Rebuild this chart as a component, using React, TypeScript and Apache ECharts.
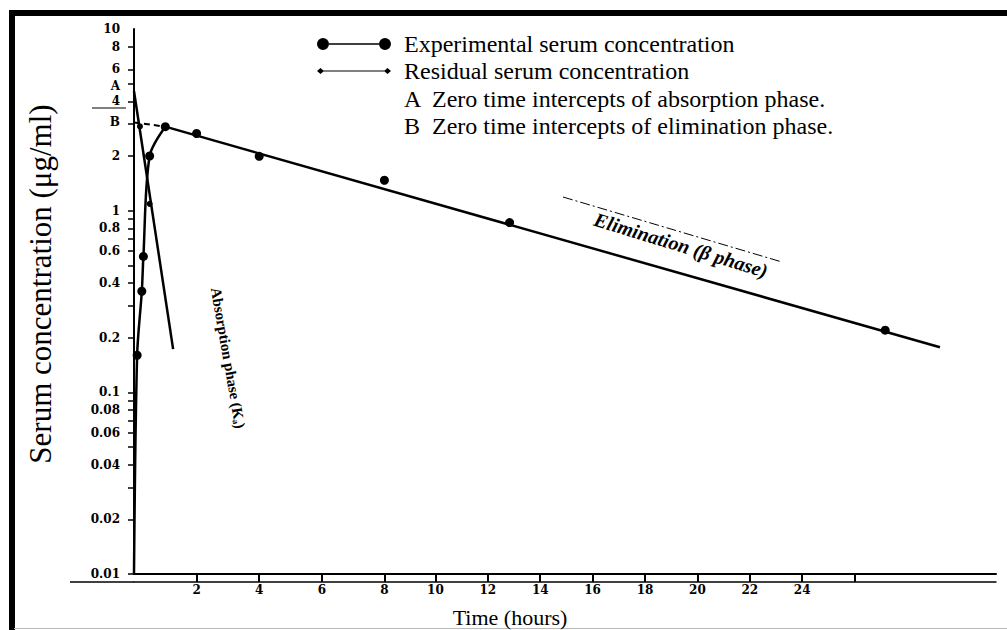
import React, { useEffect, useRef } from "react";
import * as echarts from "echarts";

// ---- data ----
// experimental serum concentration (µg/ml) at time (h)
const expTimes = [0.1, 0.25, 0.3, 0.5, 1, 2, 4, 8, 12, 24];
const expConc = [0.16, 0.36, 0.56, 2.0, 2.9, 2.66, 1.99, 1.47, 0.86, 0.22];
// drawn absorption-phase curve of the experimental data (starts at the origin)
const riseTimes = [0, 0.1, 0.25, 0.3, 0.5, 1];
const riseConc = [0.01, 0.16, 0.36, 0.56, 2.0, 2.9];
// elimination (beta phase) straight line and its back-extrapolation to B
const elimTimes = [1, 25.75];
const elimConc = [2.9, 0.177];
const elimExtrapTimes = [0, 1];
const elimExtrapConc = [3.06, 2.9];
// residual line (absorption phase, Ka) from A
const residTimes = [0, 1.25];
const residConc = [4.54, 0.173];
const residPtTimes = [0.19, 0.5];
const residPtConc = [2.91, 1.09];

// axis ticks / labels
const yLabelValues = [0.01, 0.02, 0.04, 0.06, 0.08, 0.1, 0.2, 0.4, 0.6, 0.8, 1, 2, 3.06, 4, 4.84, 6, 8, 10];
const yLabelTexts = ["0.01", "0.02", "0.04", "0.06", "0.08", "0.1", "0.2", "0.4", "0.6", "0.8", "1", "2", "B", "4", "A", "6", "8", "10"];
const yTickValues = [0.01, 0.02, 0.03, 0.04, 0.05, 0.06, 0.07, 0.08, 0.09, 0.1, 0.2, 0.3, 0.4, 0.5, 0.6, 0.7, 0.8, 0.9, 1, 2, 3, 4, 5, 6, 8];
const xLabelsNear = [2, 4, 6, 8];
const xLabelsFar = [10, 12, 14, 16, 18, 20, 22, 24];
const xTicksFar = [10, 12, 14, 16, 18, 20, 22, 24, 26];

const legendNames = ["Experimental serum concentration", "Residual serum concentration"];
const noteLines = ["A  Zero time intercepts of absorption phase.", "B  Zero time intercepts of elimination phase."];

const zip = (a: number[], b: number[]) => a.map((v, i) => [v, b[i]]);

const SERIF = "'Liberation Serif', 'Times New Roman', serif";
const TICKFONT = "'DejaVu Serif', serif";

export default function App() {
  const ref = useRef<HTMLDivElement>(null);
  useEffect(() => {
    if (!ref.current) return;
    const chart = echarts.init(ref.current, null, { renderer: "svg" });
    const labelFmt = (v: number) => {
      for (let i = 0; i < yLabelValues.length; i++) {
        if (Math.abs(v - yLabelValues[i]) / yLabelValues[i] < 1e-6) return yLabelTexts[i];
      }
      return "";
    };
    const axisLabelStyle = {
      color: "#000",
      fontFamily: TICKFONT,
      fontWeight: "bold" as const,
      fontSize: 12,
    };
    chart.setOption({
      animation: false,
      backgroundColor: "#fff",
      grid: { left: 134, right: 11, top: 29, bottom: 56, containLabel: false, outerBoundsMode: "none" },
      legend: {
        data: [
          {
            name: legendNames[0],
            icon: "path://M0,6a6,6 0 1,0 12,0a6,6 0 1,0 -12,0z M12,5.2h50v1.6h-50z M62,6a6,6 0 1,0 12,0a6,6 0 1,0 -12,0z",
            itemStyle: { color: "#000", opacity: 1 },
          },
          {
            name: legendNames[1],
            icon: "path://M0,6l3.5,-3l3.5,3l-3.5,3z M6,5.4h62v1.2h-62z M67,6l3.5,-3l3.5,3l-3.5,3z",
            itemStyle: { color: "#000", opacity: 1 },
          },
        ],
        orient: "vertical",
        left: 317,
        top: 32,
        itemWidth: 74,
        itemHeight: 12,
        itemGap: 3,
        padding: 0,
        selectedMode: false,
        textStyle: { color: "#000", fontFamily: SERIF, fontSize: 24, lineHeight: 24, padding: [0, 0, 0, 8] },
      },
      xAxis: [
        {
          type: "value",
          min: 0,
          max: 27.54,
          position: "bottom",
          axisLine: { show: true, lineStyle: { color: "#000", width: 2 } },
          axisTick: { show: true, customValues: xLabelsNear, length: 8, lineStyle: { color: "#000", width: 2 } },
          axisLabel: { ...axisLabelStyle, customValues: xLabelsNear, margin: 10 },
          splitLine: { show: false },
        },
        {
          type: "value",
          min: -1.508,
          max: 31.4,
          position: "bottom",
          offset: 8,
          axisLine: { show: true, lineStyle: { color: "#000", width: 1.5 } },
          axisTick: { show: true, inside: true, customValues: xTicksFar, length: 8, lineStyle: { color: "#000", width: 2 } },
          axisLabel: { ...axisLabelStyle, customValues: xLabelsFar, margin: 2 },
          splitLine: { show: false },
        },
      ],
      yAxis: {
        type: "log",
        logBase: 10,
        min: 0.01,
        max: 10,
        axisLine: { show: true, lineStyle: { color: "#000", width: 2 } },
        axisTick: { show: true, customValues: yTickValues, length: 6, lineStyle: { color: "#000", width: 1.5 } },
        axisLabel: { ...axisLabelStyle, fontSize: 12, customValues: yLabelValues, formatter: labelFmt, margin: 14 },
        splitLine: { show: false },
        minorTick: { show: false },
      },
      series: [
        {
          name: legendNames[0],
          type: "scatter",
          data: zip(expTimes, expConc),
          symbol: "circle",
          symbolSize: 9,
          itemStyle: { color: "#000", opacity: 1 },
          z: 5,
        },
        {
          name: "Absorption curve",
          type: "line",
          data: zip(riseTimes, riseConc),
          smooth: 0.3,
          showSymbol: false,
          lineStyle: { color: "#000", width: 2.5 },
        },
        {
          name: "Elimination line",
          type: "line",
          data: zip(elimTimes, elimConc),
          showSymbol: false,
          lineStyle: { color: "#000", width: 2.5 },
        },
        {
          name: "Elimination extrapolation",
          type: "line",
          data: zip(elimExtrapTimes, elimExtrapConc),
          showSymbol: false,
          lineStyle: { color: "#000", width: 2, type: [6, 4] },
        },
        {
          name: legendNames[1],
          type: "line",
          data: zip(residTimes, residConc),
          showSymbol: false,
          itemStyle: { color: "#000" },
          lineStyle: { color: "#000", width: 2.5 },
        },
        {
          name: "Residual points",
          type: "scatter",
          data: zip(residPtTimes, residPtConc),
          symbolSize: 6,
          itemStyle: { color: "#000", opacity: 1 },
        },
      ],
      graphic: [
        // scanned frame
        { type: "rect", left: 9, top: 10, shape: { width: 6, height: 620 }, style: { fill: "#000" }, silent: true },
        { type: "rect", left: 9, top: 10, shape: { width: 998, height: 6 }, style: { fill: "#000" }, silent: true },
        { type: "line", shape: { x1: 14, y1: 628.5, x2: 1007, y2: 628.5 }, style: { stroke: "#bbb", lineWidth: 1 }, silent: true },
        // left extension of the lower axis line and intercept mark
        { type: "line", shape: { x1: 70, y1: 582, x2: 134, y2: 582 }, style: { stroke: "#000", lineWidth: 1.5 }, silent: true },
        { type: "line", shape: { x1: 92, y1: 108, x2: 126, y2: 108 }, style: { stroke: "#000", lineWidth: 1.2 }, silent: true },
        // notes under the legend
        {
          type: "text",
          x: 404,
          y: 99,
          style: { text: noteLines[0], fill: "#000", font: `24px ${SERIF}`, textAlign: "left", textVerticalAlign: "middle" },
        },
        {
          type: "text",
          x: 404,
          y: 126,
          style: { text: noteLines[1], fill: "#000", font: `24px ${SERIF}`, textAlign: "left", textVerticalAlign: "middle" },
        },
        // axis titles
        {
          type: "text",
          x: 40,
          y: 284,
          rotation: Math.PI / 2,
          style: { text: "Serum concentration (μg/ml)", fill: "#000", font: `31px ${SERIF}`, textAlign: "center", textVerticalAlign: "middle" },
        },
        {
          type: "text",
          x: 510,
          y: 617,
          style: { text: "Time (hours)", fill: "#000", font: `22px ${SERIF}`, textAlign: "center", textVerticalAlign: "middle" },
        },
        // phase annotations
        {
          type: "text",
          x: 681,
          y: 245,
          rotation: -0.297,
          style: { text: "Elimination (β phase)", fill: "#000", font: `italic bold 20px ${SERIF}`, textAlign: "center", textVerticalAlign: "middle" },
        },
        { type: "line", shape: { x1: 563, y1: 197, x2: 782, y2: 262 }, style: { stroke: "#000", lineWidth: 1, lineDash: [10, 3, 2, 3] }, silent: true },
        {
          type: "text",
          x: 228,
          y: 358,
          rotation: -1.396,
          style: { text: "Absorption phase (Kₐ)", fill: "#000", font: `bold 15px ${SERIF}`, textAlign: "center", textVerticalAlign: "middle" },
        },
      ],
    });
    return () => chart.dispose();
  }, []);
  return <div ref={ref} style={{ position: "absolute", left: 0, top: 0, width: 1007, height: 630 }} />;
}
